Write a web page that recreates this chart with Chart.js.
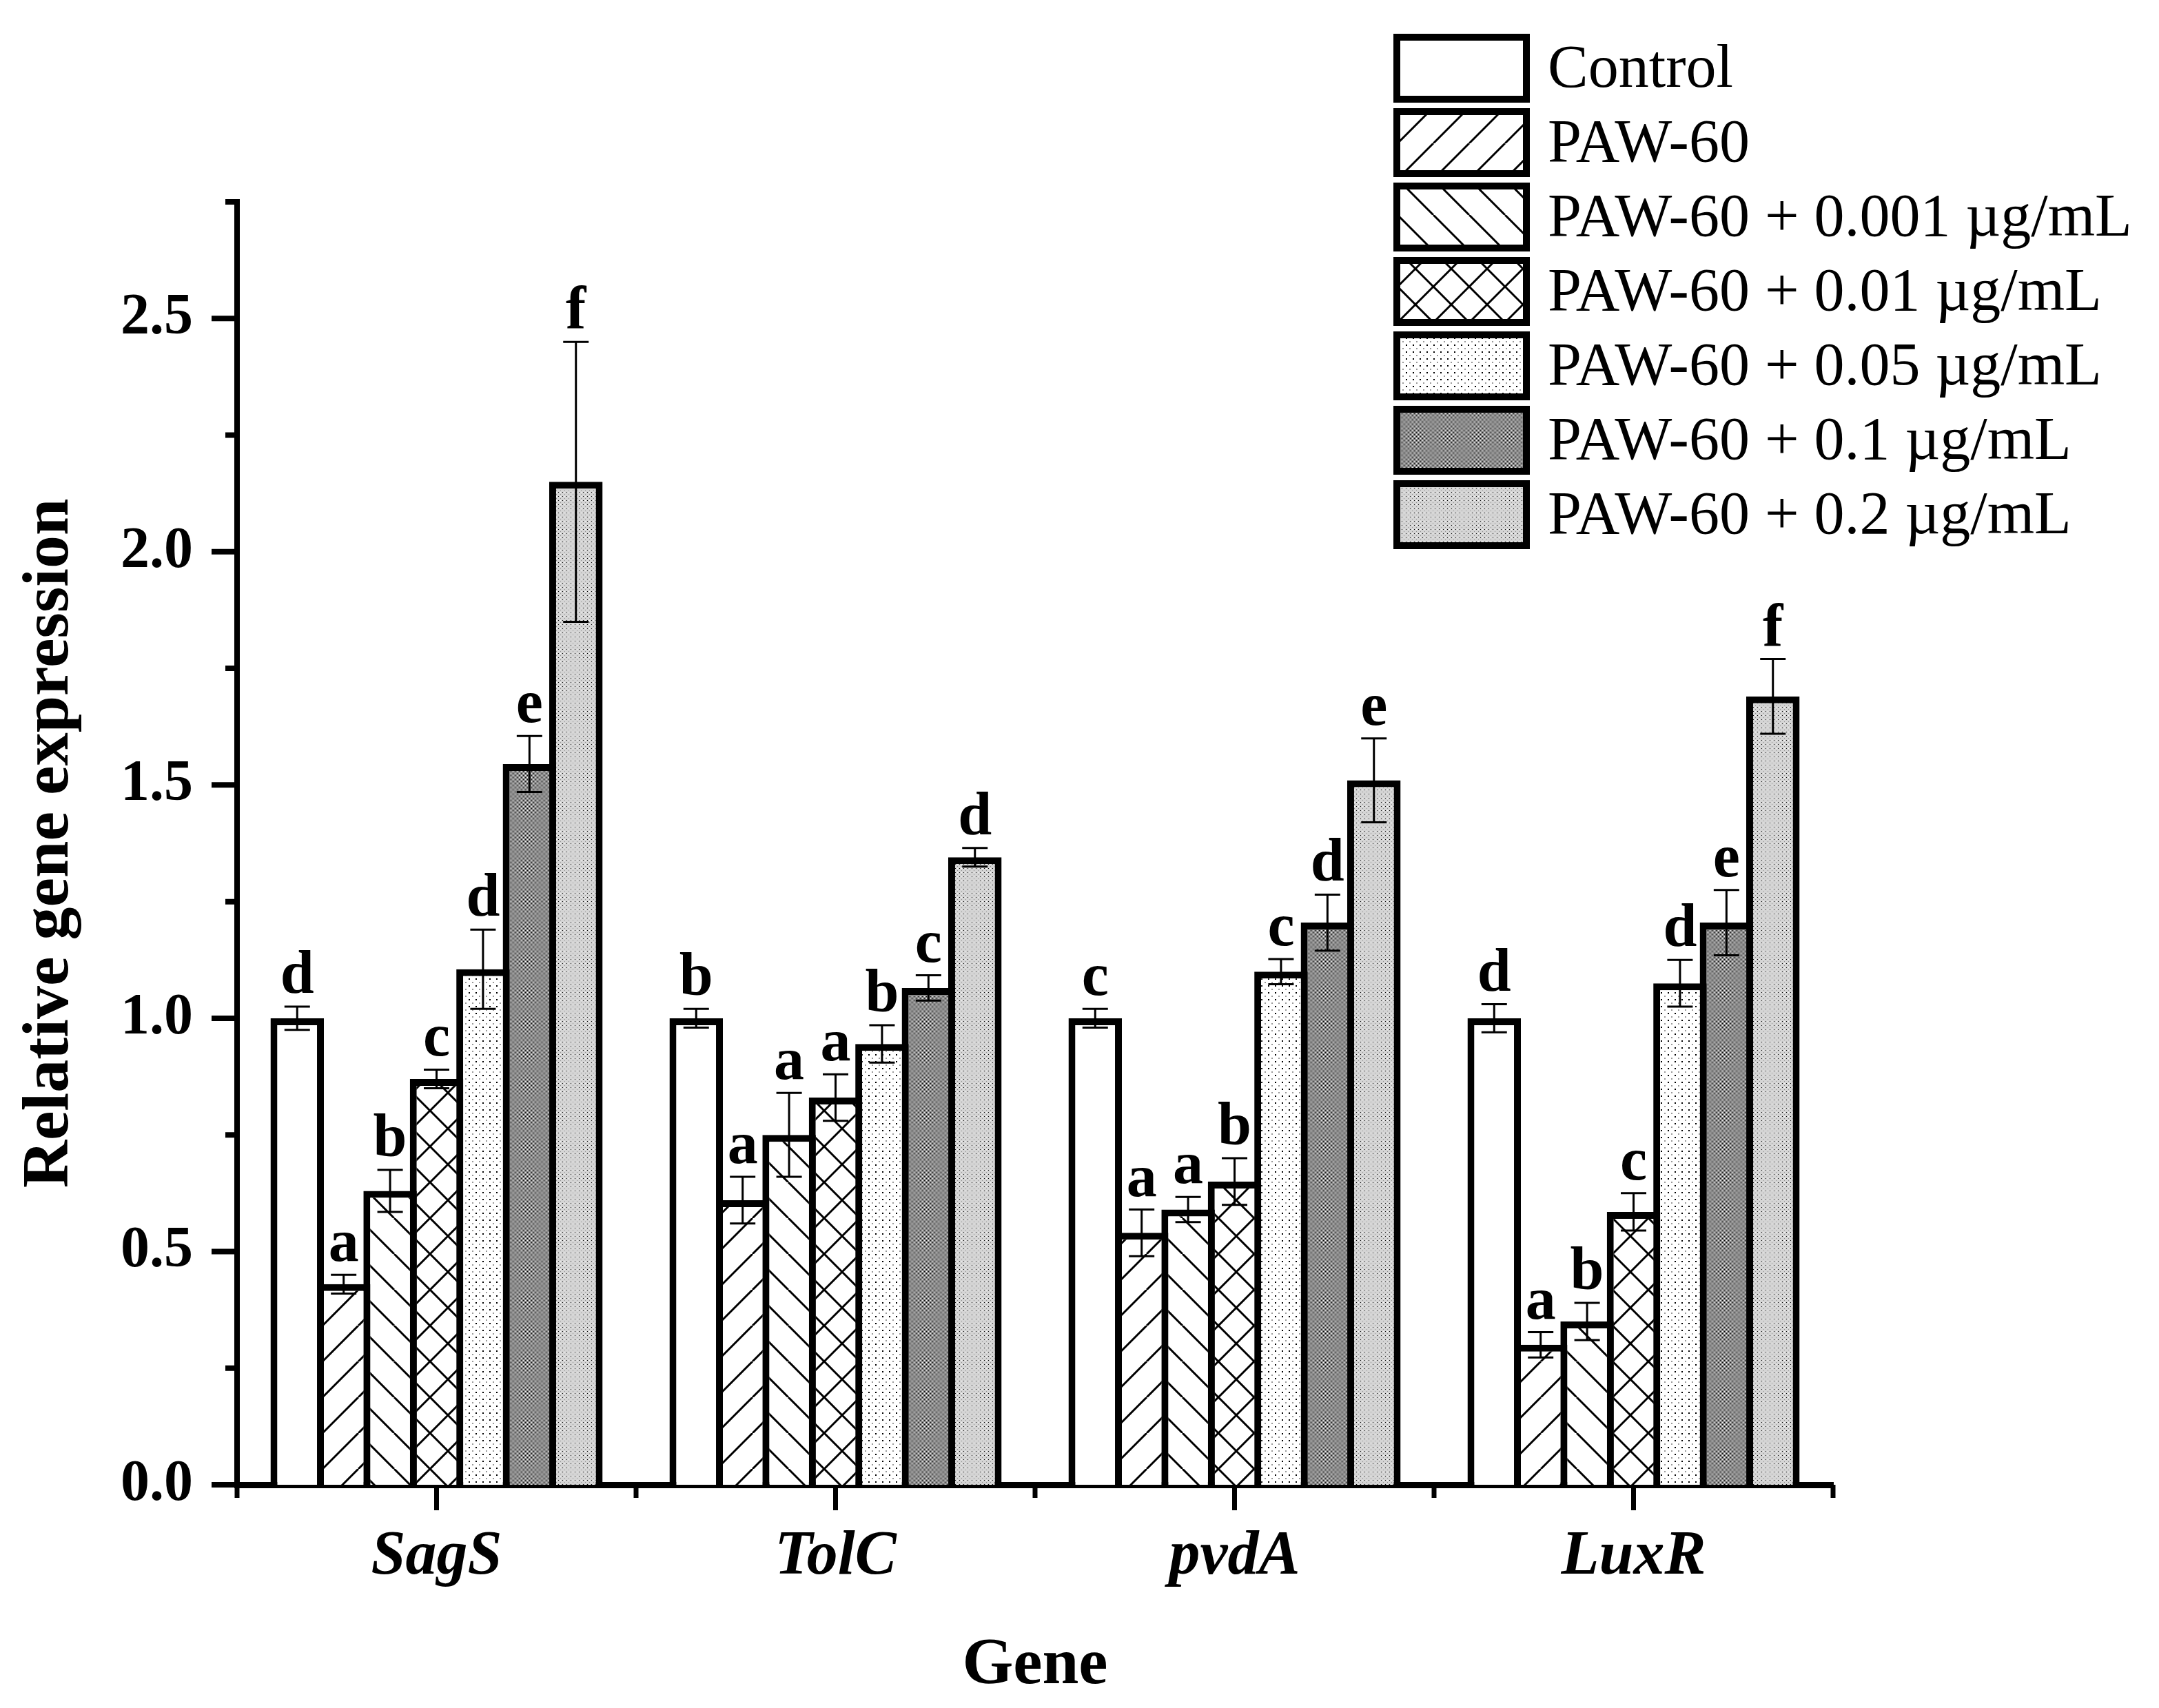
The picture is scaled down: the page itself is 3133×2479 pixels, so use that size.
<!DOCTYPE html>
<html>
<head>
<meta charset="utf-8">
<script src="https://cdn.jsdelivr.net/npm/chart.js@4/dist/chart.umd.min.js"></script>
<style>
  html, body { margin: 0; padding: 0; background: #fff; }
  canvas { display: block; }
</style>
</head>
<body>
<canvas id="geneChart" width="3133" height="2479"></canvas>
<script>
const genes = ['SagS', 'TolC', 'pvdA', 'LuxR'];
const treatments = ['Control', 'PAW-60', 'PAW-60 + 0.001 \u00b5g/mL', 'PAW-60 + 0.01 \u00b5g/mL',
    'PAW-60 + 0.05 \u00b5g/mL', 'PAW-60 + 0.1 \u00b5g/mL', 'PAW-60 + 0.2 \u00b5g/mL'];

// mean values per treatment (one entry per gene)
const control = [1.00, 1.00, 1.00, 1.00];
const paw60 = [0.43, 0.61, 0.54, 0.30];
const paw001 = [0.63, 0.75, 0.59, 0.35];
const paw01 = [0.87, 0.83, 0.65, 0.585];
const paw05 = [1.105, 0.945, 1.10, 1.075];
const paw1 = [1.545, 1.065, 1.205, 1.205];
const paw2 = [2.15, 1.345, 1.51, 1.69];

// standard deviations
const controlErr = [0.025, 0.02, 0.02, 0.03];
const paw60Err = [0.02, 0.05, 0.05, 0.027];
const paw001Err = [0.045, 0.09, 0.027, 0.04];
const paw01Err = [0.02, 0.05, 0.05, 0.04];
const paw05Err = [0.085, 0.04, 0.027, 0.05];
const paw1Err = [0.06, 0.027, 0.06, 0.07];
const paw2Err = [0.30, 0.02, 0.09, 0.08];

// significance letters
const controlSig = ['d', 'b', 'c', 'd'];
const paw60Sig = ['a', 'a', 'a', 'a'];
const paw001Sig = ['b', 'a', 'a', 'b'];
const paw01Sig = ['c', 'a', 'b', 'c'];
const paw05Sig = ['d', 'b', 'c', 'd'];
const paw1Sig = ['e', 'c', 'd', 'e'];
const paw2Sig = ['f', 'd', 'e', 'f'];

const yTicks = [0, 0.5, 1.0, 1.5, 2.0, 2.5];

const FONT = "'Liberation Serif', 'Times New Roman', serif";

// ---- fill patterns ----
function hatch(kind) {
    const s = 52;
    const c = document.createElement('canvas');
    c.width = c.height = s;
    const g = c.getContext('2d');
    g.fillStyle = '#fff';
    g.fillRect(0, 0, s, s);
    g.strokeStyle = '#000';
    g.lineWidth = 3;
    g.beginPath();
    for (let k = -1; k <= 1; k++) {
        if (kind.includes('/')) { g.moveTo(k * s, s); g.lineTo(k * s + s, 0); }
        if (kind.includes('\\')) { g.moveTo(k * s, 0); g.lineTo(k * s + s, s); }
    }
    g.stroke();
    return g.createPattern(c, 'repeat');
}

function dots(size, base, marks) {
    const c = document.createElement('canvas');
    c.width = c.height = size;
    const g = c.getContext('2d');
    g.fillStyle = base;
    g.fillRect(0, 0, size, size);
    marks.forEach(m => {
        g.fillStyle = m[2];
        g.fillRect(m[0], m[1], m[3] || 2, m[3] || 2);
    });
    return g.createPattern(c, 'repeat');
}

const fills = [
    '#ffffff',
    hatch('/'),
    hatch('\\'),
    hatch('/\\'),
    dots(10, '#ffffff', [[0, 0, '#000'], [5, 5, '#9a9a9a']]),
    dots(6, '#8a8a8a', [[0, 0, '#000', 1], [3, 3, '#000', 1], [3, 0, '#fff', 1], [0, 3, '#fff', 1]]),
    dots(6, '#d4d4d4', [[0, 0, '#000', 1], [3, 3, '#8a8a8a', 1], [3, 0, '#fff', 1]])
];

const values = [control, paw60, paw001, paw01, paw05, paw1, paw2];
const errors = [controlErr, paw60Err, paw001Err, paw01Err, paw05Err, paw1Err, paw2Err];
const letters = [controlSig, paw60Sig, paw001Sig, paw01Sig, paw05Sig, paw1Sig, paw2Sig];

const datasets = treatments.map((name, i) => ({
    label: name,
    data: values[i],
    backgroundColor: fills[i],
    borderColor: '#000',
    borderWidth: 10,
    borderSkipped: 'start',
    barPercentage: 1.15,
    categoryPercentage: 0.815
}));

// error bars + letters, drawn through the scales
const errorBars = {
    id: 'errorBars',
    afterDatasetsDraw(chart) {
        const ctx = chart.ctx;
        const y = chart.scales.y;
        ctx.save();
        ctx.strokeStyle = '#000';
        ctx.lineWidth = 3;
        ctx.fillStyle = '#000';
        ctx.font = 'bold 88px ' + FONT;
        ctx.textAlign = 'center';
        ctx.textBaseline = 'alphabetic';
        chart.data.datasets.forEach((ds, i) => {
            const meta = chart.getDatasetMeta(i);
            meta.data.forEach((bar, j) => {
                const v = ds.data[j];
                const e = errors[i][j];
                const top = y.getPixelForValue(v + e);
                const bot = y.getPixelForValue(v - e);
                const hw = 18.5;
                ctx.beginPath();
                ctx.moveTo(bar.x, top); ctx.lineTo(bar.x, bot);
                ctx.moveTo(bar.x - hw, top); ctx.lineTo(bar.x + hw, top);
                ctx.moveTo(bar.x - hw, bot); ctx.lineTo(bar.x + hw, bot);
                ctx.stroke();
                ctx.fillText(letters[i][j], bar.x, top - 20);
            });
        });
        ctx.restore();
    }
};

// outward major/minor tick marks
const axisTicks = {
    id: 'axisTicks',
    afterDraw(chart) {
        const ctx = chart.ctx;
        const x = chart.scales.x;
        const y = chart.scales.y;
        const area = chart.chartArea;
        ctx.save();
        ctx.strokeStyle = '#000';
        ctx.beginPath();
        ctx.lineWidth = 8;
        for (let v = 0; v <= 2.75 + 1e-9; v += 0.25) {
            const py = y.getPixelForValue(v);
            const major = Math.abs(v * 2 - Math.round(v * 2)) < 1e-6;
            ctx.moveTo(area.left, py);
            ctx.lineTo(area.left - (major ? 37 : 17), py);
        }
        ctx.stroke();
        ctx.beginPath();
        ctx.lineWidth = 7;
        const n = genes.length;
        for (let i = 0; i < n; i++) {
            const px = x.getPixelForValue(i);
            ctx.moveTo(px, area.bottom);
            ctx.lineTo(px, area.bottom + 37);
        }
        for (let i = 0; i <= n; i++) {
            const px = x.getPixelForValue(i - 0.5);
            ctx.moveTo(px, area.bottom);
            ctx.lineTo(px, area.bottom + 19);
        }
        ctx.stroke();
        ctx.restore();
    }
};

// legend column at top right
const boxLegend = {
    id: 'boxLegend',
    afterDraw(chart) {
        const ctx = chart.ctx;
        ctx.save();
        ctx.font = '88px ' + FONT;
        ctx.textAlign = 'left';
        ctx.textBaseline = 'middle';
        chart.data.datasets.forEach((ds, i) => {
            const bx = 2022, by = 49 + i * 108, bw = 198, bh = 100;
            ctx.fillStyle = ds.backgroundColor;
            ctx.fillRect(bx, by, bw, bh);
            ctx.lineWidth = 10;
            ctx.strokeStyle = '#000';
            ctx.strokeRect(bx + 5, by + 5, bw - 10, bh - 10);
            ctx.fillStyle = '#000';
            ctx.fillText(ds.label, 2246, by + bh / 2 + 4);
        });
        ctx.restore();
    }
};

new Chart(document.getElementById('geneChart').getContext('2d'), {
    type: 'bar',
    data: { labels: genes, datasets: datasets },
    plugins: [errorBars, axisTicks, boxLegend],
    options: {
        responsive: false,
        animation: false,
        devicePixelRatio: 1,
        layout: { padding: { top: 293, right: 473, left: 0, bottom: 0 } },
        plugins: {
            legend: { display: false },
            tooltip: { enabled: false }
        },
        scales: {
            x: {
                offset: true,
                grid: { display: false, drawTicks: false, offset: true },
                border: { display: true, color: '#000', width: 9 },
                ticks: {
                    color: '#000',
                    padding: 52,
                    font: { family: FONT, size: 90, weight: 'bold', style: 'italic' }
                },
                title: {
                    display: true,
                    text: 'Gene',
                    color: '#000',
                    padding: { top: 0, bottom: 4 },
                    font: { family: FONT, size: 95, weight: 'bold', lineHeight: 1.2 }
                },
                afterFit(scale) { scale.height = 324; }
            },
            y: {
                min: 0,
                max: 2.75,
                grid: { display: false, drawTicks: false },
                border: { display: true, color: '#000', width: 8 },
                afterBuildTicks(scale) {
                    scale.ticks = yTicks.map(v => ({ value: v }));
                },
                ticks: {
                    color: '#000',
                    padding: 64,
                    callback: v => v.toFixed(1),
                    font: { family: FONT, size: 84, weight: 'bold' }
                },
                title: {
                    display: true,
                    text: 'Relative gene expression',
                    color: '#000',
                    padding: { top: 16, bottom: 0 },
                    font: { family: FONT, size: 96, weight: 'bold', lineHeight: 1.2 }
                },
                afterFit(scale) { scale.width = 344; }
            }
        }
    }
});
</script>
</body>
</html>
